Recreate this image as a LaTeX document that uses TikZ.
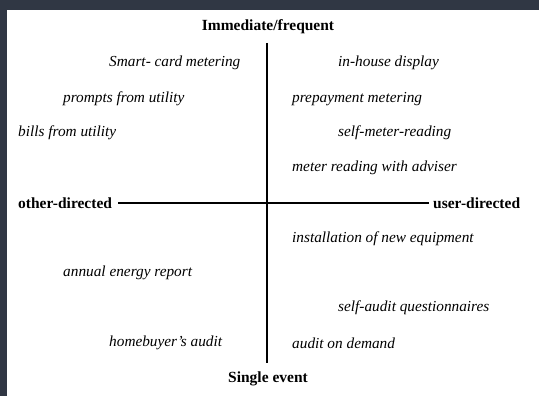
\documentclass[tikz,border=0pt]{standalone}
\usepackage{fontspec}
\setmainfont{Liberation Serif}
\definecolor{frame}{RGB}{48,55,68}
\tikzset{
  lbl/.style={anchor=west,inner sep=0pt,yshift=-2pt,font=\fontsize{15.3}{18}\selectfont\itshape},
  axis/.style={inner sep=0pt,yshift=-2pt,font=\fontsize{15.5}{18}\selectfont\bfseries},
  axline/.style={line width=1.2pt,black}
}
\begin{document}
\begin{tikzpicture}[x=1pt,y=-1pt]
\useasboundingbox (0,0) rectangle (539,396);
\fill[frame] (0,0) rectangle (539,396);
\fill[white] (7,10) rectangle (539,396);
% axes labels
\node[axis] (top) at (268,25) {Immediate/frequent};
\node[axis] (bot) at (268,377) {Single event};
\node[axis,anchor=west] (od) at (18,201) {other-directed};
\node[axis,anchor=west] (ud) at (433,201) {user-directed};
% axis lines
\coordinate (vt) at (267,43);
\coordinate (vb) at (267,363);
\coordinate (hl) at (118,203);
\coordinate (hr) at (429,203);
\draw[axline] (vt) -- (vb);
\draw[axline] (hl) -- (hr);
% items
\node[lbl] (n1) at (109,61) {Smart- card metering};
\node[lbl] (n2) at (63,97) {prompts from utility};
\node[lbl] (n3) at (18,131) {bills from utility};
\node[lbl] (n4) at (338,61) {in-house display};
\node[lbl] (n5) at (292,97) {prepayment metering};
\node[lbl] (n6) at (338,131) {self-meter-reading};
\node[lbl] (n7) at (292,166) {meter reading with adviser};
\node[lbl] (n8) at (292,237) {installation of new equipment};
\node[lbl] (n9) at (63,271) {annual energy report};
\node[lbl] (n10) at (338,306) {self-audit questionnaires};
\node[lbl] (n11) at (109,341) {homebuyer’s audit};
\node[lbl] (n12) at (292,341) {audit on demand};
\end{tikzpicture}
\end{document}
